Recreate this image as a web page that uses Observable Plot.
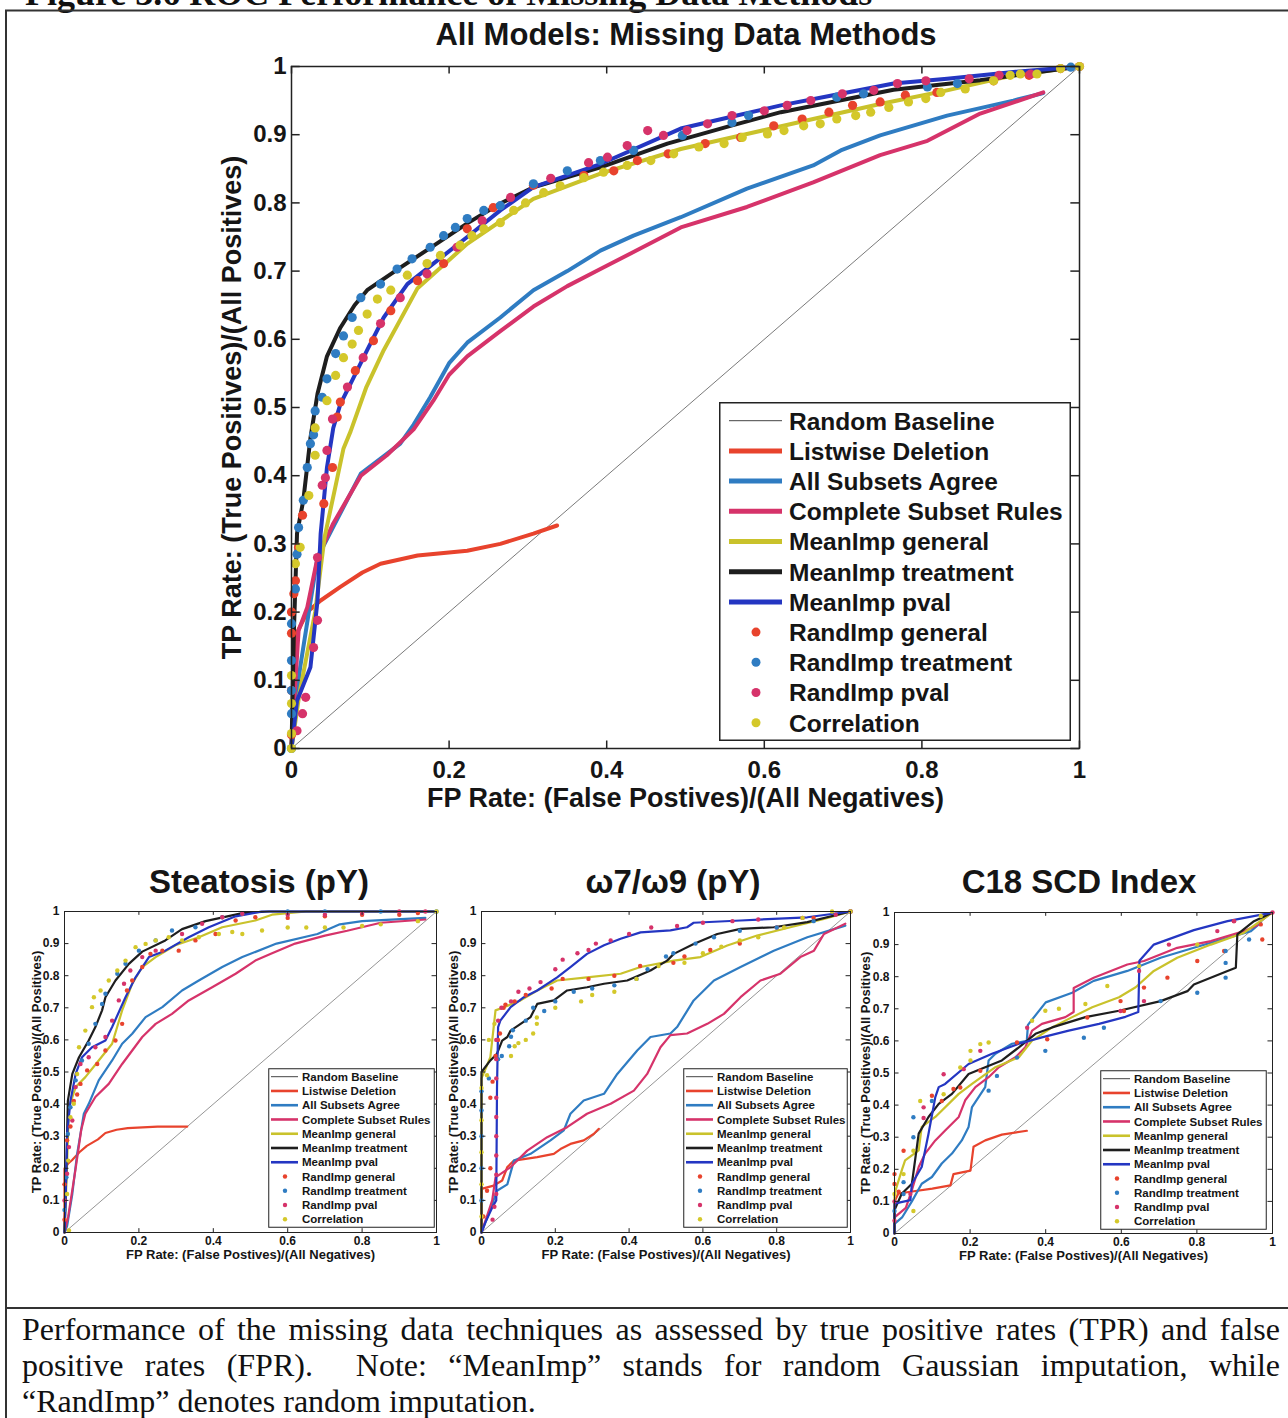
<!DOCTYPE html>
<html><head><meta charset="utf-8">
<script src="https://cdn.jsdelivr.net/npm/d3@7"></script>
<script src="https://cdn.jsdelivr.net/npm/@observablehq/plot@0.6"></script>
<style>
body{margin:0;background:#fff;}
#page{position:relative;width:1288px;height:1418px;overflow:hidden;background:#fff;font-family:"Liberation Sans",Arial,sans-serif;color:#151515;}
.cap{position:absolute;left:22px;width:1258px;font-family:"Liberation Serif","Times New Roman",serif;font-size:32px;line-height:36px;white-space:nowrap;color:#111;}
.just{text-align:justify;text-align-last:justify;white-space:normal;}
</style></head><body><div id="page"></div>
<script>
// ---------- shared labels / ticks ----------
const xTicks = [0, 0.2, 0.4, 0.6, 0.8, 1];
const yTicks = [0, 0.1, 0.2, 0.3, 0.4, 0.5, 0.6, 0.7, 0.8, 0.9, 1];
const seriesNames = ["Random Baseline","Listwise Deletion","All Subsets Agree","Complete Subset Rules","MeanImp general","MeanImp treatment","MeanImp pval","RandImp general","RandImp treatment","RandImp pval","Correlation"];
const seriesKinds = ["base","line","line","line","line","line","line","dot","dot","dot","dot"];
const seriesColors = ["#7a7a7a","#e8432d","#2f7cc2","#d6336a","#c9c22b","#1e1e1e","#2436c2","#e8432d","#2f7cc2","#d6336a","#d4c82a"];
const xLabel = "FP Rate: (False Postives)/(All Negatives)";
const yLabel = "TP Rate: (True Positives)/(All Positives)";
const panelTitles = ["All Models: Missing Data Methods","Steatosis (pY)","\u03c97/\u03c99 (pY)","C18 SCD Index"];
const figureHeader = "Figure 3.6 ROC Performance of Missing Data Methods";
const captionLines = ["Performance of the missing data techniques as assessed by true positive rates (TPR) and false",
  "positive rates (FPR).\u00a0 Note: \u201cMeanImp\u201d stands for random Gaussian imputation, while",
  "\u201cRandImp\u201d denotes random imputation."];

// ---------- main panel: All Models ----------
const mainBaseline = [[0,0],[1,1]];
const mainListwise = [[0,0],[0.003,0.1],[0.007,0.17],[0.02,0.2],[0.037,0.217],[0.062,0.237],[0.09,0.258],[0.113,0.271],[0.16,0.283],[0.223,0.29],[0.265,0.3],[0.307,0.315],[0.337,0.327]];
const mainAllSubsets = [[0,0],[0.005,0.06],[0.011,0.119],[0.022,0.2],[0.033,0.28],[0.053,0.325],[0.088,0.403],[0.121,0.432],[0.138,0.447],[0.155,0.475],[0.176,0.515],[0.2,0.565],[0.223,0.595],[0.265,0.632],[0.307,0.672],[0.35,0.7],[0.392,0.73],[0.434,0.752],[0.494,0.779],[0.578,0.821],[0.662,0.855],[0.697,0.877],[0.747,0.899],[0.832,0.928],[0.916,0.95],[0.954,0.961]];
const mainCompleteSubset = [[0,0],[0.004,0.08],[0.009,0.173],[0.02,0.207],[0.033,0.28],[0.053,0.33],[0.088,0.4],[0.121,0.43],[0.155,0.468],[0.18,0.51],[0.2,0.548],[0.223,0.575],[0.265,0.612],[0.307,0.648],[0.35,0.678],[0.392,0.703],[0.434,0.728],[0.494,0.764],[0.578,0.794],[0.662,0.83],[0.747,0.87],[0.807,0.891],[0.874,0.931],[0.954,0.962]];
const mainMeanGeneral = [[0,0],[0.01,0.08],[0.03,0.2],[0.042,0.31],[0.055,0.38],[0.066,0.44],[0.075,0.465],[0.095,0.53],[0.117,0.584],[0.16,0.675],[0.223,0.74],[0.307,0.806],[0.392,0.843],[0.494,0.879],[0.578,0.901],[0.662,0.923],[0.747,0.945],[0.832,0.965],[0.916,0.987],[1,1]];
const mainMeanTreatment = [[0,0],[0.003,0.17],[0.007,0.315],[0.015,0.364],[0.024,0.455],[0.033,0.52],[0.045,0.575],[0.062,0.617],[0.08,0.65],[0.096,0.672],[0.138,0.705],[0.18,0.737],[0.223,0.77],[0.265,0.799],[0.307,0.823],[0.392,0.852],[0.477,0.887],[0.557,0.913],[0.621,0.933],[0.764,0.966],[0.874,0.98],[1,1]];
const mainMeanPval = [[0,0],[0.007,0.07],[0.024,0.119],[0.033,0.217],[0.037,0.315],[0.045,0.412],[0.053,0.47],[0.062,0.505],[0.075,0.535],[0.096,0.584],[0.117,0.632],[0.147,0.681],[0.18,0.711],[0.223,0.75],[0.265,0.789],[0.307,0.823],[0.392,0.857],[0.494,0.909],[0.557,0.926],[0.621,0.943],[0.684,0.957],[0.764,0.975],[0.832,0.982],[0.916,0.992],[1,1]];
const mainRandGeneral = [[0,0.02],[0,0.085],[0,0.169],[0,0.2],[0.003,0.227],[0.005,0.246],[0.009,0.295],[0.014,0.342],[0.041,0.359],[0.052,0.412],[0.058,0.486],[0.062,0.508],[0.081,0.554],[0.104,0.598],[0.126,0.642],[0.16,0.686],[0.193,0.711],[0.223,0.762],[0.256,0.793],[0.307,0.826],[0.371,0.84],[0.409,0.847],[0.439,0.862],[0.478,0.872],[0.525,0.887],[0.57,0.896],[0.612,0.913],[0.648,0.923],[0.682,0.933],[0.712,0.943],[0.747,0.948],[0.779,0.958],[0.819,0.962],[0.891,0.979],[0.936,0.987]];
const mainRandTreatment = [[0,0],[0,0.051],[0,0.085],[0,0.129],[0,0.183],[0.005,0.234],[0.007,0.285],[0.009,0.324],[0.015,0.364],[0.02,0.412],[0.024,0.447],[0.028,0.46],[0.03,0.495],[0.039,0.515],[0.045,0.542],[0.056,0.579],[0.066,0.605],[0.077,0.632],[0.088,0.661],[0.113,0.681],[0.134,0.703],[0.153,0.718],[0.176,0.735],[0.193,0.752],[0.208,0.764],[0.223,0.777],[0.244,0.789],[0.265,0.796],[0.307,0.828],[0.35,0.847],[0.392,0.862],[0.434,0.877],[0.496,0.899],[0.559,0.918],[0.58,0.928],[0.692,0.955],[0.726,0.96],[0.807,0.97],[0.845,0.975],[0.989,0.999]];
const mainRandPval = [[0.007,0.026],[0.014,0.051],[0.018,0.075],[0.028,0.148],[0.033,0.188],[0.033,0.28],[0.039,0.386],[0.043,0.397],[0.045,0.437],[0.052,0.483],[0.071,0.53],[0.091,0.573],[0.113,0.623],[0.138,0.661],[0.172,0.696],[0.21,0.735],[0.242,0.774],[0.278,0.808],[0.329,0.836],[0.377,0.859],[0.401,0.867],[0.426,0.884],[0.452,0.906],[0.472,0.899],[0.502,0.906],[0.528,0.916],[0.559,0.928],[0.6,0.935],[0.629,0.943],[0.659,0.95],[0.699,0.96],[0.739,0.965],[0.769,0.975],[0.805,0.979],[0.86,0.982],[0.898,0.987],[0.938,0.989],[0.976,0.997],[1,1]];
const mainCorrelation = [[0,0],[0,0.022],[0,0.066],[0,0.107],[0.005,0.271],[0.011,0.295],[0.022,0.371],[0.03,0.43],[0.03,0.47],[0.045,0.51],[0.056,0.547],[0.066,0.573],[0.077,0.593],[0.085,0.613],[0.096,0.637],[0.109,0.659],[0.126,0.672],[0.147,0.694],[0.172,0.711],[0.189,0.723],[0.214,0.738],[0.229,0.752],[0.244,0.762],[0.265,0.771],[0.282,0.789],[0.297,0.8],[0.32,0.815],[0.341,0.825],[0.371,0.837],[0.396,0.845],[0.426,0.855],[0.456,0.862],[0.485,0.872],[0.517,0.882],[0.549,0.887],[0.572,0.896],[0.604,0.901],[0.625,0.906],[0.65,0.913],[0.671,0.916],[0.692,0.923],[0.716,0.928],[0.735,0.933],[0.758,0.94],[0.783,0.948],[0.805,0.953],[0.824,0.962],[0.855,0.967],[0.891,0.979],[0.912,0.987],[0.925,0.989],[0.946,0.989],[0.976,0.997],[1,1]];

// ---------- panel 1: Steatosis (pY) ----------
const p1Baseline = [[0,0],[1,1]];
const p1Listwise = [[0,0],[0,0.2],[0.01,0.215],[0.02,0.225],[0.04,0.25],[0.06,0.27],[0.09,0.29],[0.11,0.31],[0.14,0.32],[0.17,0.325],[0.25,0.33],[0.33,0.33]];
const p1AllSubsets = [[0,0],[0.007,0.02],[0.021,0.12],[0.034,0.245],[0.052,0.37],[0.065,0.4],[0.092,0.474],[0.128,0.536],[0.155,0.588],[0.182,0.619],[0.218,0.671],[0.263,0.702],[0.316,0.754],[0.361,0.785],[0.424,0.827],[0.478,0.858],[0.57,0.9],[0.68,0.93],[0.74,0.96],[0.8,0.97],[0.97,0.98]];
const p1CompleteSubset = [[0,0],[0.01,0.05],[0.03,0.2],[0.045,0.32],[0.056,0.37],[0.083,0.422],[0.119,0.463],[0.155,0.525],[0.209,0.609],[0.245,0.65],[0.289,0.681],[0.334,0.723],[0.397,0.764],[0.46,0.806],[0.513,0.847],[0.558,0.87],[0.62,0.9],[0.7,0.925],[0.76,0.94],[0.85,0.965],[0.97,0.975]];
const p1MeanGeneral = [[0,0],[0.005,0.15],[0.012,0.39],[0.03,0.453],[0.056,0.484],[0.092,0.536],[0.128,0.588],[0.155,0.692],[0.182,0.775],[0.209,0.827],[0.245,0.858],[0.298,0.895],[0.361,0.92],[0.424,0.951],[0.513,0.972],[0.558,0.99],[0.65,1],[1,1]];
const p1MeanTreatment = [[0,0],[0.005,0.2],[0.009,0.41],[0.021,0.494],[0.039,0.546],[0.065,0.598],[0.083,0.64],[0.101,0.692],[0.11,0.733],[0.137,0.785],[0.173,0.837],[0.209,0.875],[0.271,0.91],[0.316,0.945],[0.379,0.97],[0.478,0.995],[0.55,1],[1,1]];
const p1MeanPval = [[0,0],[0.003,0.1],[0.005,0.2],[0.007,0.307],[0.016,0.41],[0.03,0.494],[0.047,0.546],[0.074,0.577],[0.11,0.598],[0.128,0.64],[0.164,0.733],[0.191,0.795],[0.227,0.858],[0.271,0.878],[0.334,0.92],[0.388,0.951],[0.46,0.985],[0.53,1],[1,1]];
const p1RandGeneral = [[0,0.04],[0,0.15],[0.007,0.287],[0.016,0.33],[0.025,0.41],[0.034,0.43],[0.043,0.463],[0.061,0.505],[0.088,0.525],[0.11,0.567],[0.137,0.598],[0.155,0.65],[0.168,0.754],[0.182,0.785],[0.209,0.827],[0.231,0.868],[0.263,0.878],[0.307,0.878],[0.352,0.91],[0.406,0.93],[0.46,0.972],[0.513,0.982],[0.6,0.98],[0.7,0.985],[0.8,0.99],[0.9,0.99],[0.95,0.995]];
const p1RandTreatment = [[0,0.07],[0.005,0.172],[0.009,0.307],[0.016,0.39],[0.03,0.474],[0.047,0.536],[0.065,0.588],[0.083,0.65],[0.101,0.712],[0.11,0.744],[0.142,0.806],[0.164,0.837],[0.2,0.878],[0.245,0.91],[0.289,0.941],[0.352,0.951],[0.424,0.982],[0.478,0.993],[0.6,1],[0.7,1],[0.85,1],[1,1]];
const p1RandPval = [[0,0.1],[0.007,0.183],[0.012,0.266],[0.021,0.349],[0.03,0.453],[0.043,0.525],[0.065,0.546],[0.083,0.577],[0.11,0.609],[0.128,0.66],[0.146,0.723],[0.16,0.775],[0.177,0.816],[0.209,0.858],[0.245,0.878],[0.316,0.93],[0.37,0.962],[0.424,0.982],[0.478,0.993],[0.6,0.99],[0.7,0.99],[0.8,0.995],[0.9,1],[0.97,1]];
const p1Correlation = [[0.012,0.006],[0.007,0.12],[0.01,0.224],[0.016,0.359],[0.025,0.401],[0.034,0.494],[0.039,0.577],[0.056,0.629],[0.074,0.702],[0.079,0.733],[0.097,0.754],[0.119,0.785],[0.142,0.816],[0.164,0.847],[0.191,0.889],[0.218,0.899],[0.245,0.91],[0.28,0.92],[0.316,0.91],[0.361,0.92],[0.415,0.93],[0.451,0.936],[0.478,0.93],[0.531,0.941],[0.6,0.95],[0.65,0.95],[0.7,0.95],[0.75,0.95],[0.8,0.955],[0.85,0.96],[0.95,0.97],[1,1]];

// ---------- panel 2: w7/w9 (pY) ----------
const p2Baseline = [[0,0],[1,1]];
const p2Listwise = [[0,0],[0,0.136],[0.033,0.146],[0.056,0.162],[0.07,0.204],[0.088,0.224],[0.151,0.235],[0.196,0.245],[0.214,0.26],[0.241,0.276],[0.277,0.287],[0.304,0.307],[0.318,0.323]];
const p2AllSubsets = [[0,0],[0.02,0.06],[0.042,0.13],[0.07,0.15],[0.088,0.224],[0.133,0.245],[0.187,0.287],[0.223,0.318],[0.241,0.37],[0.277,0.411],[0.332,0.432],[0.368,0.494],[0.422,0.567],[0.458,0.609],[0.512,0.62],[0.53,0.64],[0.575,0.723],[0.63,0.785],[0.702,0.827],[0.792,0.878],[0.883,0.92],[0.986,0.956]];
const p2CompleteSubset = [[0,0],[0.029,0.1],[0.038,0.172],[0.079,0.204],[0.124,0.255],[0.178,0.297],[0.232,0.328],[0.286,0.37],[0.35,0.401],[0.413,0.442],[0.449,0.494],[0.485,0.577],[0.512,0.615],[0.557,0.62],[0.612,0.65],[0.657,0.681],[0.702,0.733],[0.756,0.785],[0.81,0.806],[0.864,0.858],[0.901,0.878],[0.928,0.93],[0.986,0.962]];
const p2MeanGeneral = [[0,0],[0,0.48],[0.024,0.546],[0.038,0.692],[0.061,0.702],[0.106,0.723],[0.151,0.754],[0.205,0.785],[0.286,0.795],[0.377,0.806],[0.431,0.827],[0.521,0.847],[0.593,0.858],[0.666,0.894],[0.747,0.925],[0.837,0.951],[0.928,0.977],[1,1]];
const p2MeanTreatment = [[0,0],[0,0.5],[0.024,0.536],[0.042,0.557],[0.056,0.598],[0.07,0.609],[0.079,0.629],[0.106,0.65],[0.133,0.671],[0.151,0.712],[0.196,0.723],[0.232,0.754],[0.286,0.764],[0.332,0.775],[0.395,0.785],[0.458,0.816],[0.503,0.847],[0.521,0.868],[0.575,0.899],[0.639,0.93],[0.702,0.946],[0.792,0.951],[0.883,0.967],[1,1]];
const p2MeanPval = [[0,0],[0.01,0.03],[0.03,0.08],[0.04,0.1],[0.042,0.45],[0.045,0.64],[0.051,0.66],[0.079,0.702],[0.115,0.733],[0.151,0.754],[0.205,0.795],[0.241,0.827],[0.286,0.868],[0.332,0.895],[0.377,0.915],[0.431,0.935],[0.512,0.941],[0.557,0.951],[0.575,0.965],[0.702,0.972],[0.883,0.982],[1,1]];
const p2RandGeneral = [[0.005,0.05],[0.015,0.13],[0.024,0.2],[0.024,0.42],[0.03,0.47],[0.038,0.55],[0.045,0.6],[0.05,0.62],[0.06,0.7],[0.065,0.71],[0.09,0.72],[0.12,0.74],[0.19,0.76],[0.22,0.79],[0.29,0.79],[0.36,0.8],[0.43,0.83],[0.52,0.84],[0.55,0.86],[0.62,0.88],[0.7,0.9],[0.8,0.95],[0.9,0.98],[1,1]];
const p2RandTreatment = [[0,0.1],[0,0.2],[0,0.3],[0,0.38],[0,0.44],[0.02,0.48],[0.045,0.54],[0.055,0.55],[0.075,0.58],[0.08,0.61],[0.085,0.63],[0.12,0.66],[0.14,0.7],[0.17,0.69],[0.2,0.72],[0.25,0.75],[0.3,0.76],[0.36,0.77],[0.42,0.79],[0.45,0.82],[0.5,0.86],[0.52,0.87],[0.58,0.9],[0.63,0.92],[0.7,0.94],[0.8,0.95],[0.9,0.97],[1,1]];
const p2RandPval = [[0.03,0.04],[0.035,0.08],[0.04,0.12],[0.04,0.18],[0.04,0.24],[0.04,0.3],[0.04,0.36],[0.04,0.42],[0.04,0.48],[0.04,0.54],[0.04,0.6],[0.045,0.66],[0.054,0.7],[0.08,0.72],[0.1,0.75],[0.13,0.76],[0.16,0.78],[0.2,0.82],[0.22,0.85],[0.26,0.87],[0.29,0.88],[0.31,0.9],[0.35,0.91],[0.4,0.93],[0.46,0.95],[0.53,0.955],[0.6,0.965],[0.68,0.97],[0.75,0.975],[0.87,0.98],[0.96,0.99],[1,1]];
const p2Correlation = [[0,0.05],[0,0.15],[0,0.25],[0,0.35],[0,0.45],[0.015,0.49],[0.02,0.6],[0.035,0.65],[0.08,0.55],[0.09,0.58],[0.1,0.59],[0.12,0.6],[0.14,0.62],[0.15,0.65],[0.15,0.67],[0.2,0.7],[0.27,0.72],[0.3,0.74],[0.36,0.75],[0.42,0.79],[0.48,0.83],[0.55,0.84],[0.6,0.87],[0.65,0.89],[0.7,0.91],[0.75,0.92],[0.82,0.95],[0.87,0.98],[0.95,1],[1,1]];

// ---------- panel 3: C18 SCD Index ----------
const p3Baseline = [[0,0],[1,1]];
const p3Listwise = [[0,0],[0,0.1],[0.01,0.124],[0.042,0.13],[0.1,0.14],[0.148,0.15],[0.156,0.185],[0.201,0.196],[0.209,0.27],[0.24,0.29],[0.284,0.308],[0.35,0.32]];
const p3AllSubsets = [[0,0],[0,0.03],[0.02,0.05],[0.046,0.1],[0.072,0.155],[0.099,0.176],[0.125,0.218],[0.152,0.249],[0.178,0.29],[0.196,0.332],[0.205,0.394],[0.24,0.456],[0.249,0.539],[0.267,0.56],[0.311,0.591],[0.35,0.6],[0.353,0.65],[0.4,0.72],[0.47,0.75],[0.527,0.787],[0.616,0.818],[0.704,0.859],[0.792,0.89],[0.881,0.921],[0.943,0.942],[0.969,0.968]];
const p3CompleteSubset = [[0,0],[0,0.05],[0.03,0.08],[0.046,0.135],[0.064,0.207],[0.081,0.249],[0.108,0.29],[0.134,0.321],[0.17,0.363],[0.187,0.415],[0.214,0.456],[0.249,0.487],[0.276,0.518],[0.32,0.549],[0.346,0.58],[0.364,0.632],[0.39,0.653],[0.452,0.674],[0.474,0.69],[0.474,0.765],[0.527,0.797],[0.616,0.838],[0.66,0.849],[0.748,0.89],[0.837,0.911],[0.925,0.942],[0.96,0.96]];
const p3MeanGeneral = [[0,0],[0,0.124],[0.02,0.2],[0.028,0.228],[0.064,0.259],[0.072,0.332],[0.108,0.363],[0.17,0.435],[0.205,0.466],[0.267,0.518],[0.329,0.549],[0.364,0.601],[0.417,0.642],[0.47,0.674],[0.523,0.705],[0.594,0.736],[0.638,0.767],[0.686,0.818],[0.748,0.859],[0.837,0.9],[0.925,0.937],[1,1]];
const p3MeanTreatment = [[0,0],[0,0.073],[0.019,0.124],[0.046,0.155],[0.064,0.311],[0.09,0.363],[0.117,0.404],[0.152,0.435],[0.196,0.497],[0.24,0.518],[0.284,0.539],[0.329,0.58],[0.373,0.622],[0.417,0.642],[0.505,0.674],[0.594,0.694],[0.704,0.724],[0.775,0.755],[0.792,0.776],[0.881,0.818],[0.903,0.828],[0.907,0.932],[0.951,0.973],[1,1]];
const p3MeanPval = [[0,0],[0,0.093],[0.042,0.104],[0.046,0.155],[0.072,0.207],[0.09,0.311],[0.108,0.425],[0.117,0.456],[0.134,0.466],[0.196,0.528],[0.258,0.56],[0.329,0.591],[0.39,0.611],[0.461,0.632],[0.541,0.653],[0.611,0.675],[0.645,0.69],[0.648,0.85],[0.686,0.9],[0.792,0.945],[0.881,0.973],[1,1]];
const p3RandGeneral = [[0,0.154],[0,0.185],[0.011,0.13],[0.024,0.258],[0.099,0.429],[0.125,0.413],[0.156,0.45],[0.174,0.455],[0.227,0.507],[0.324,0.595],[0.404,0.605],[0.51,0.673],[0.598,0.724],[0.607,0.693],[0.66,0.766],[0.722,0.797],[0.801,0.849],[0.872,0.88],[0.898,0.973],[0.969,0.963],[0.973,0.916]];
const p3RandTreatment = [[0,0.07],[0.024,0.123],[0.024,0.16],[0.05,0.3],[0.05,0.362],[0.099,0.413],[0.249,0.445],[0.271,0.491],[0.324,0.548],[0.399,0.569],[0.501,0.61],[0.554,0.641],[0.704,0.724],[0.801,0.75],[0.876,0.797],[0.876,0.843],[0.876,0.88],[0.938,0.916]];
const p3RandPval = [[0,0.04],[0,0.1],[0.042,0.123],[0.077,0.393],[0.077,0.36],[0.13,0.496],[0.183,0.512],[0.227,0.569],[0.351,0.641],[0.598,0.693],[0.66,0.724],[0.647,0.818],[0.726,0.9],[0.854,0.942],[0.898,0.973],[1,1]];
const p3Correlation = [[0,0.123],[0.024,0.185],[0.05,0.07],[0.05,0.258],[0.068,0.413],[0.13,0.434],[0.174,0.517],[0.201,0.539],[0.201,0.569],[0.227,0.59],[0.249,0.595],[0.364,0.663],[0.399,0.694],[0.435,0.7],[0.505,0.715],[0.563,0.771],[0.647,0.833],[0.801,0.9],[0.969,0.989]];

const mainSeries = [mainBaseline,mainListwise,mainAllSubsets,mainCompleteSubset,mainMeanGeneral,mainMeanTreatment,mainMeanPval,mainRandGeneral,mainRandTreatment,mainRandPval,mainCorrelation];
const p1Series = [p1Baseline,p1Listwise,p1AllSubsets,p1CompleteSubset,p1MeanGeneral,p1MeanTreatment,p1MeanPval,p1RandGeneral,p1RandTreatment,p1RandPval,p1Correlation];
const p2Series = [p2Baseline,p2Listwise,p2AllSubsets,p2CompleteSubset,p2MeanGeneral,p2MeanTreatment,p2MeanPval,p2RandGeneral,p2RandTreatment,p2RandPval,p2Correlation];
const p3Series = [p3Baseline,p3Listwise,p3AllSubsets,p3CompleteSubset,p3MeanGeneral,p3MeanTreatment,p3MeanPval,p3RandGeneral,p3RandTreatment,p3RandPval,p3Correlation];

// ---------- drawing ----------
const page = document.getElementById("page");
const FONT = "'Liberation Sans', Arial, sans-serif";

function place(node, left, top) {
  node.style.position = "absolute";
  node.style.left = left + "px";
  node.style.top = top + "px";
  page.appendChild(node);
}

function rocChart(series, c) {
  const tl = c.tickLen, ink = "#222";
  const marks = [];
  series.forEach((data, i) => {
    const kind = seriesKinds[i];
    if (kind === "base") marks.push(Plot.line(data, {x: d => d[0], y: d => d[1], stroke: seriesColors[i], strokeWidth: c.baseW}));
    else if (kind === "line") marks.push(Plot.line(data, {x: d => d[0], y: d => d[1], stroke: seriesColors[i], strokeWidth: c.lineW, strokeLinejoin: "round", strokeLinecap: "round"}));
  });
  series.forEach((data, i) => {
    if (seriesKinds[i] === "dot") marks.push(Plot.dot(data, {x: d => d[0], y: d => d[1], r: c.dotR, fill: seriesColors[i], stroke: "none"}));
  });
  marks.push(
    Plot.ruleX(xTicks, {x: d => d, y1: () => 0, y2: () => tl, stroke: ink, strokeWidth: c.frameW}),
    Plot.ruleX(xTicks, {x: d => d, y1: () => 1 - tl, y2: () => 1, stroke: ink, strokeWidth: c.frameW}),
    Plot.ruleY(yTicks, {y: d => d, x1: () => 0, x2: () => tl, stroke: ink, strokeWidth: c.frameW}),
    Plot.ruleY(yTicks, {y: d => d, x1: () => 1 - tl, x2: () => 1, stroke: ink, strokeWidth: c.frameW}),
    Plot.frame({stroke: ink, strokeWidth: c.frameW}),
    Plot.axisX({ticks: xTicks, tickSize: 0, tickPadding: c.xPad, fontSize: c.tickFont, fontWeight: "bold", tickFormat: d => String(d), label: null}),
    Plot.axisY({ticks: yTicks, tickSize: 0, tickPadding: c.yPad, fontSize: c.tickFont, fontWeight: "bold", tickFormat: d => String(d), label: null}),
    Plot.text([xLabel], {text: d => d, frameAnchor: "bottom", textAnchor: "middle", lineAnchor: "middle", dy: c.xLabelDy, fontSize: c.labelFont, fontWeight: "bold"}),
    Plot.text([yLabel], {text: d => d, frameAnchor: "left", textAnchor: "middle", lineAnchor: "middle", dx: c.yLabelDx, rotate: -90, fontSize: c.labelFont, fontWeight: "bold"})
  );
  return Plot.plot({
    width: c.width, height: c.height,
    marginLeft: c.ml, marginRight: c.mr, marginTop: c.mt, marginBottom: c.mb,
    x: {domain: [0, 1]}, y: {domain: [0, 1]},
    style: {fontFamily: FONT, color: "#151515", background: "transparent", overflow: "visible"},
    marks
  });
}

function drawLegend(left, top, L) {
  const svg = d3.create("svg").attr("width", L.w).attr("height", L.h).style("overflow", "visible");
  svg.append("rect").attr("x", 0.75).attr("y", 0.75).attr("width", L.w - 1.5).attr("height", L.h - 1.5)
    .attr("fill", "white").attr("stroke", "#222").attr("stroke-width", L.frameW);
  seriesNames.forEach((name, i) => {
    const y = L.y0 + i * L.step;
    const kind = seriesKinds[i];
    if (kind === "dot") {
      svg.append("circle").attr("cx", L.dotX).attr("cy", y).attr("r", L.dotR).attr("fill", seriesColors[i]);
    } else {
      svg.append("line").attr("x1", L.x1).attr("x2", L.x2).attr("y1", y).attr("y2", y)
        .attr("stroke", kind === "base" ? "#444" : seriesColors[i]).attr("stroke-width", kind === "base" ? 1 : L.lineW);
    }
    svg.append("text").attr("x", L.tx).attr("y", y).attr("dy", "0.36em").attr("font-family", FONT)
      .attr("font-weight", "bold").attr("font-size", L.font).attr("fill", "#151515").text(name);
  });
  place(svg.node(), left, top);
}

// page furniture: header, borders, titles
const deco = d3.create("svg").attr("width", 1288).attr("height", 1418);
deco.append("text").attr("x", 25).attr("y", 5).attr("font-family", "'Liberation Serif', 'Times New Roman', serif")
  .attr("font-weight", "bold").attr("font-size", 36).attr("fill", "#111").text(figureHeader);
deco.append("line").attr("x1", 5).attr("x2", 1288).attr("y1", 10.5).attr("y2", 10.5).attr("stroke", "#333").attr("stroke-width", 2);
deco.append("line").attr("x1", 6).attr("x2", 6).attr("y1", 10).attr("y2", 1418).attr("stroke", "#333").attr("stroke-width", 2);
deco.append("line").attr("x1", 5).attr("x2", 1288).attr("y1", 1308).attr("y2", 1308).attr("stroke", "#333").attr("stroke-width", 2);
const titlePos = [[686, 45, 31], [259, 893, 33], [673, 893, 33], [1079, 893, 33]];
panelTitles.forEach((t, i) => {
  deco.append("text").attr("x", titlePos[i][0]).attr("y", titlePos[i][1]).attr("text-anchor", "middle")
    .attr("font-family", FONT).attr("font-weight", "bold").attr("font-size", titlePos[i][2]).attr("fill", "#151515").text(t);
});
place(deco.node(), 0, 0);

// main chart
place(rocChart(mainSeries, {width: 919, height: 768, ml: 111, mr: 20, mt: 16, mb: 70,
  tickLen: 0.011, frameW: 1.5, baseW: 1, lineW: 4, dotR: 4.6, xPad: 12, yPad: 5,
  tickFont: 24, labelFont: 27, xLabelDy: 50, yLabelDx: -59}), 180, 50);
drawLegend(719, 402, {w: 352, h: 339, y0: 18.7, step: 30.2, x1: 10, x2: 63, tx: 70, dotX: 37, dotR: 4.5, lineW: 5, font: 24.5, frameW: 1.5});

// small charts
const smallCfg = {height: 367, mt: 11, mb: 35, tickLen: 0.012, frameW: 1, baseW: 0.8, lineW: 2.2, dotR: 2.2,
  xPad: 4, yPad: 5, tickFont: 12, labelFont: 13, xLabelDy: 22};
place(rocChart(p1Series, {...smallCfg, width: 426, ml: 44, mr: 10, yLabelDx: -28}), 20, 900);
place(rocChart(p2Series, {...smallCfg, width: 418, ml: 41, mr: 8, yLabelDx: -28}), 440, 900);
place(rocChart(p3Series, {...smallCfg, width: 430, ml: 42, mr: 10, mt: 12, height: 368, yLabelDx: -29}), 852, 900);
const smallLegend = {w: 167, h: 160, y0: 8.7, step: 14.26, x1: 3, x2: 30, tx: 34, dotX: 17, dotR: 2.2, lineW: 2.6, font: 11.5, frameW: 1};
drawLegend(268, 1068, smallLegend);
drawLegend(683, 1068, {...smallLegend, w: 165});
drawLegend(1100, 1070, smallLegend);

// caption
captionLines.forEach((line, i) => {
  const div = document.createElement("div");
  div.className = "cap" + (i < 2 ? " just" : "");
  div.style.top = (1311 + i * 36) + "px";
  div.textContent = line;
  page.appendChild(div);
});
</script></body></html>
